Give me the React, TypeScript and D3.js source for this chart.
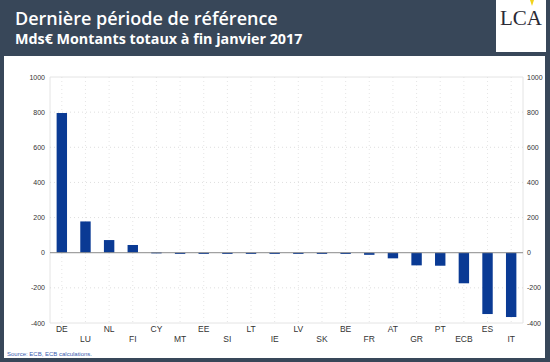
import React from "react";
import * as d3 from "d3";

const categories = ["DE","LU","NL","FI","CY","MT","EE","SI","LT","IE","LV","SK","BE","FR","AT","GR","PT","ECB","ES","IT"];
const values = [795,178,72,44,3,-1,-2,-2,-3,-5,-5,-6,-7,-12,-32,-72,-74,-174,-349,-366];
const yTicks = [-400,-200,0,200,400,600,800,1000];
const title = "Dernière période de référence";
const subtitle = "Mds€ Montants totaux à fin janvier 2017";
const source = "Source: ECB, ECB calculations.";

export default function App() {
  const W = 550, H = 362;
  const left = 50, right = 523, top = 77, bottom = 323;
  const x = d3.scaleBand<string>().domain(categories).range([left, right]).paddingInner(0.56).paddingOuter(0.28);
  const xc = d3.scaleBand<string>().domain(categories).range([left, right]);
  const y = d3.scaleLinear().domain([-400, 1000]).range([bottom, top]);
  const font = "Arial, 'Liberation Sans', sans-serif";
  return (
    <svg width={W} height={H} style={{ position: "absolute", left: 0, top: 0 }}>
      <rect x={0} y={0} width={W} height={H} fill="#384759" />
      <rect x={4} y={56} width={541} height={302} fill="#ffffff" />
      <text x={15} y={25} fill="#ffffff" fontFamily="'Open Sans', sans-serif" fontWeight={600} fontSize={18}>{title}</text>
      <text x={15} y={44} fill="#ffffff" fontFamily="'Open Sans', sans-serif" fontWeight={700} fontSize={14.3}>{subtitle}</text>
      <rect x={496} y={0} width={50} height={52} fill="#ffffff" />
      <text x={521} y={25} textAnchor="middle" fill="#2a2a35" fontFamily="'Liberation Serif', 'DejaVu Serif', serif" fontSize={21}>LCA</text>
      <path d="M530,0 L534,0 L532,6 Z" fill="#f2d21b" />
      <line x1={left} x2={left} y1={top} y2={bottom} stroke="#e4e4e4" strokeWidth={1} />
      <line x1={right} x2={right} y1={top} y2={bottom} stroke="#e4e4e4" strokeWidth={1} />
      <line x1={left} x2={right} y1={top} y2={top} stroke="#e4e4e4" strokeWidth={1} />
      <line x1={left} x2={right} y1={bottom} y2={bottom} stroke="#e4e4e4" strokeWidth={1} />
      {categories.map((c) => (
        <line key={"vg" + c} x1={xc(c)! + xc.bandwidth() / 2} x2={xc(c)! + xc.bandwidth() / 2} y1={top} y2={bottom} stroke="#dedede" strokeWidth={0.8} strokeDasharray="1,3" />
      ))}
      {yTicks.filter((t) => t !== 0 && t !== -400 && t !== 1000).map((t) => (
        <line key={"hg" + t} x1={left} x2={right} y1={y(t)} y2={y(t)} stroke="#d6d6d6" strokeWidth={0.8} strokeDasharray="1,3" />
      ))}
      {categories.map((c, i) => {
        const v = values[i];
        return (
          <rect key={c} x={x(c)} width={x.bandwidth()} y={y(Math.max(0, v))} height={Math.max(1.2, Math.abs(y(v) - y(0)))} fill="#0a3a94" />
        );
      })}
      <line x1={left} x2={right} y1={y(0)} y2={y(0)} stroke="#8a8a8a" strokeWidth={1} />
      {yTicks.map((t) => (
        <g key={"yt" + t} fontFamily={font} fontSize={7} fill="#333">
          <text x={45} y={y(t) + 2.5} textAnchor="end">{t}</text>
          <text x={527} y={y(t) + 2.5} textAnchor="start">{t}</text>
        </g>
      ))}
      {categories.map((c, i) => (
        <text key={"xl" + c} x={xc(c)! + xc.bandwidth() / 2} y={i % 2 === 0 ? 332 : 342} textAnchor="middle" fontFamily={font} fontSize={8.5} fill="#333">{c}</text>
      ))}
      <text x={7} y={356} fontFamily={font} fontSize={6} fill="#3a5cb0">{source}</text>
    </svg>
  );
}
